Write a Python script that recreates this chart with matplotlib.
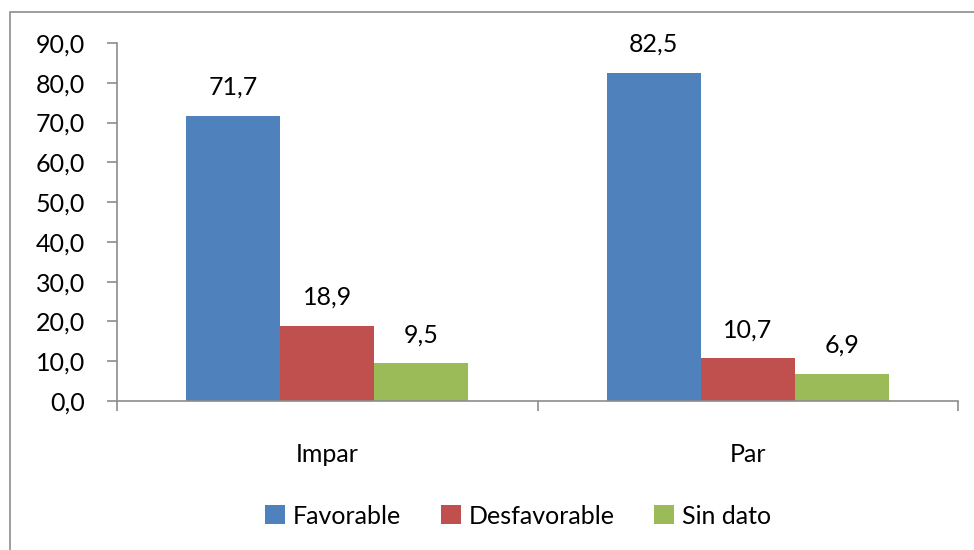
import matplotlib
matplotlib.use("Agg")
import matplotlib.pyplot as plt
import numpy as np
from matplotlib.patches import Rectangle

categories = ["Impar", "Par"]
series = ["Favorable", "Desfavorable", "Sin dato"]
favorable = [71.7, 82.5]
desfavorable = [18.9, 10.7]
sin_dato = [9.5, 6.9]
colors = ["#4F81BD", "#C0504D", "#9BBB59"]
yticks = [0, 10, 20, 30, 40, 50, 60, 70, 80, 90]

plt.rcParams['font.family'] = ['Lato', 'DejaVu Sans']
FS = 18

W, H = 974, 550
fig = plt.figure(figsize=(W/100, H/100), dpi=100)
ax = fig.add_axes([117/W, 1-401/H, (958-117)/W, (401-43)/H])

# outer chart border
fig.patches.append(Rectangle((10/W, -0.05), 1.2, 1-12/H+0.05, transform=fig.transFigure,
                             fill=False, edgecolor="#8C8C8C", linewidth=1.2))

vals = [favorable, desfavorable, sin_dato]
x = np.arange(len(categories))
bw = 0.67/3
for i, (name, v) in enumerate(zip(series, vals)):
    pos = x - bw + i*bw
    ax.bar(pos, v, width=bw, color=colors[i], label=name, zorder=2)
    for p, val in zip(pos, v):
        ax.text(p, val + 4.3, f"{val:.1f}".replace(".", ","), ha="center", va="bottom",
                fontsize=FS)

ax.set_xlim(-0.5, 1.5)
ax.set_ylim(0, 90)
ax.set_yticks(yticks)
ax.set_yticklabels([f"{t:.1f}".replace(".", ",") for t in yticks], fontsize=FS)
ax.set_xticks([-0.5, 0.5, 1.5])
ax.set_xticklabels([])
ax.set_xticks(x, minor=True)
ax.set_xticklabels(categories, minor=True, fontsize=FS)
ax.tick_params(axis="x", which="minor", length=0, pad=30)
ax.tick_params(axis="x", which="major", length=7, direction="out", color="#8C8C8C", width=1.2)
ax.tick_params(axis="y", length=7, direction="out", color="#8C8C8C", width=1.2, pad=16)
for s in ["top", "right"]:
    ax.spines[s].set_visible(False)
for s in ["left", "bottom"]:
    ax.spines[s].set_color("#8C8C8C")
    ax.spines[s].set_linewidth(1.2)
ax.set_facecolor("none")

fig.legend(loc="center", bbox_to_anchor=(518/W, 1-516/H), ncol=3, frameon=False,
           fontsize=FS, handlelength=0.8, handleheight=0.8, handletextpad=0.3,
           columnspacing=1.6)

fig.savefig("out.png", dpi=100)
